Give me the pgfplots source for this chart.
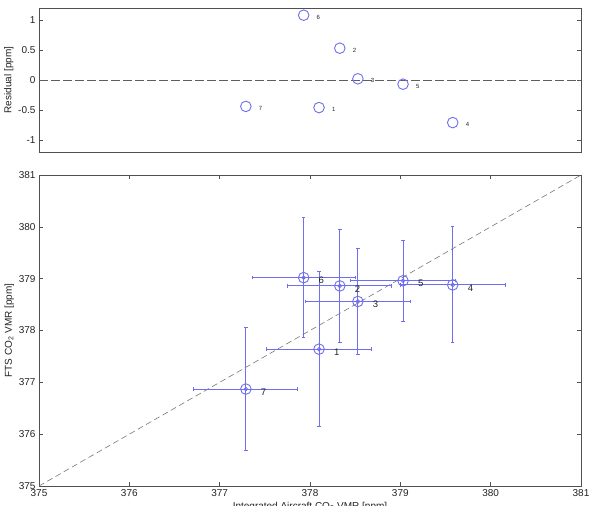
\documentclass[border=0pt]{standalone}
\usepackage{pgfplots}
\pgfplotsset{compat=1.18}
\usepackage{pgfplotstable}
\usepackage{fontspec}
\setmainfont{Liberation Sans}
\definecolor{mblue}{RGB}{110,110,238}
\definecolor{axgray}{RGB}{80,80,80}
\definecolor{txt}{RGB}{35,35,35}
\pgfplotstableread{
label x y ex ey res
1 378.10 377.64 0.58 1.50 -0.46
2 378.33 378.86 0.575 1.09 0.53
3 378.53 378.56 0.58 1.03 0.02
4 379.58 378.88 0.58 1.12 -0.71
5 379.03 378.96 0.585 0.78 -0.07
6 377.93 379.02 0.57 1.16 1.08
7 377.29 376.87 0.575 1.18 -0.44
}\pts
\begin{document}
\begin{tikzpicture}[x=1pt,y=1pt]
\pgfplotsset{
  every axis/.append style={
    scale only axis,
    axis line style={draw=axgray, line width=0.6pt},
    tick style={draw=axgray, line width=0.5pt},
    tick align=inside,
    tick pos=both,
    major tick length=4pt,
    /pgf/number format/assume math mode=true,
    tick label style={font=\fontsize{10}{12}\selectfont, text=txt},
    label style={font=\fontsize{10}{12}\selectfont, text=txt},
  }
}
\begin{axis}[
  at={(39pt,-8pt)}, anchor=north west,
  width=542pt, height=144pt,
  xmin=375, xmax=381, ymin=-1.2, ymax=1.2,
  xtick=\empty,
  ytick={-1,-0.5,0,0.5,1},
  yticklabels={-1,-0.5,0,0.5,1},
  ylabel={Residual [ppm]},
  ylabel style={yshift=-2pt},
  clip=false,
]
\addplot[draw={rgb,255:red,95;green,95;blue,95}, line width=0.9pt, dash pattern=on 8.5pt off 3.5pt] coordinates {(375,0) (381,0)};
\addplot[only marks, mark=o, mark size=5.3pt, color=mblue, mark options={draw=mblue, line width=0.9pt}] table[x=x, y=res] {\pts};
\addplot[draw=none, mark=none, nodes near coords, point meta=explicit symbolic,
  every node near coord/.style={anchor=west, xshift=9.5pt, yshift=-2pt, font=\fontsize{6}{7}\selectfont, text=txt}]
  table[x=x, y=res, meta=label] {\pts};
\end{axis}

\begin{axis}[
  at={(39pt,-175pt)}, anchor=north west,
  width=542pt, height=311pt,
  xmin=375, xmax=381, ymin=375, ymax=381,
  xtick={375,376,377,378,379,380,381},
  ytick={375,376,377,378,379,380,381},
  xlabel={Integrated Aircraft CO\textsubscript{2} VMR [ppm]},
  ylabel={FTS CO\textsubscript{2} VMR [ppm]},
  xlabel style={yshift=1.5pt},
  ylabel style={yshift=-2pt},
  clip=false,
]
\addplot[draw={rgb,255:red,120;green,120;blue,120}, line width=0.6pt, dash pattern=on 6pt off 3.5pt] coordinates {(375,375) (381,381)};
\addplot[only marks, mark=o, mark size=1.8pt, color=mblue, mark options={draw=mblue, line width=0.9pt},
  error bars/.cd, x dir=both, x explicit, y dir=both, y explicit,
  error bar style={color=mblue, line width=0.9pt},
  error mark options={rotate=90, color=mblue, mark size=1.7pt, line width=0.9pt}]
  table[x=x, y=y, x error=ex, y error=ey] {\pts};
\addplot[only marks, mark=o, mark size=5.3pt, color=mblue, mark options={draw=mblue, line width=0.9pt}] table[x=x, y=y] {\pts};
\addplot[draw=none, mark=none, nodes near coords, point meta=explicit symbolic,
  every node near coord/.style={anchor=west, xshift=11.5pt, yshift=-3pt, font=\fontsize{9.5}{10}\selectfont, text=txt}]
  table[x=x, y=y, meta=label] {\pts};
\end{axis}
\pgfresetboundingbox
\useasboundingbox (0,0) rectangle (589,-506);
\end{tikzpicture}
\end{document}
